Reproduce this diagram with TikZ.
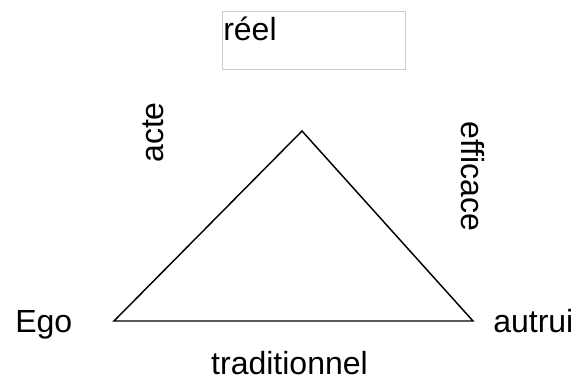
\documentclass[tikz,border=0pt]{standalone}
\usepackage{fontspec}
\setmainfont{Liberation Sans}
\usepackage{tikz}
\usetikzlibrary{positioning}
\usepackage{xcolor}
\definecolor{boxgray}{RGB}{204,204,204}

\begin{document}
\begin{tikzpicture}[x=0.75pt,y=-0.75pt,every node/.style={font=\fontsize{24}{28}\selectfont,inner sep=0pt}]
  \useasboundingbox (0,0) rectangle (575,380);
  % box on top
  \draw[boxgray,line width=0.75pt] (222,11) rectangle (405,69);
  \node[anchor=base west] (reel) at (223,40) {réel};
  % triangle
  \coordinate (top) at (302,131);
  \coordinate (left) at (114,321);
  \coordinate (right) at (473,321);
  \draw[line width=1.1pt,line join=miter] (left) -- (top) -- (right) -- cycle;
  % labels of the corners and sides
  \node[anchor=base west] (ego) at (15,332) {Ego};
  \node[anchor=base west] (autrui) at (493,332) {autrui};
  \node[anchor=base] (trad) at (289.5,374) {traditionnel};
  \node[anchor=base,rotate=90] (acte) at (163,132.5) {acte};
  \node[anchor=base,rotate=-90] (eff) at (461,176.5) {efficace};
\end{tikzpicture}
\end{document}
